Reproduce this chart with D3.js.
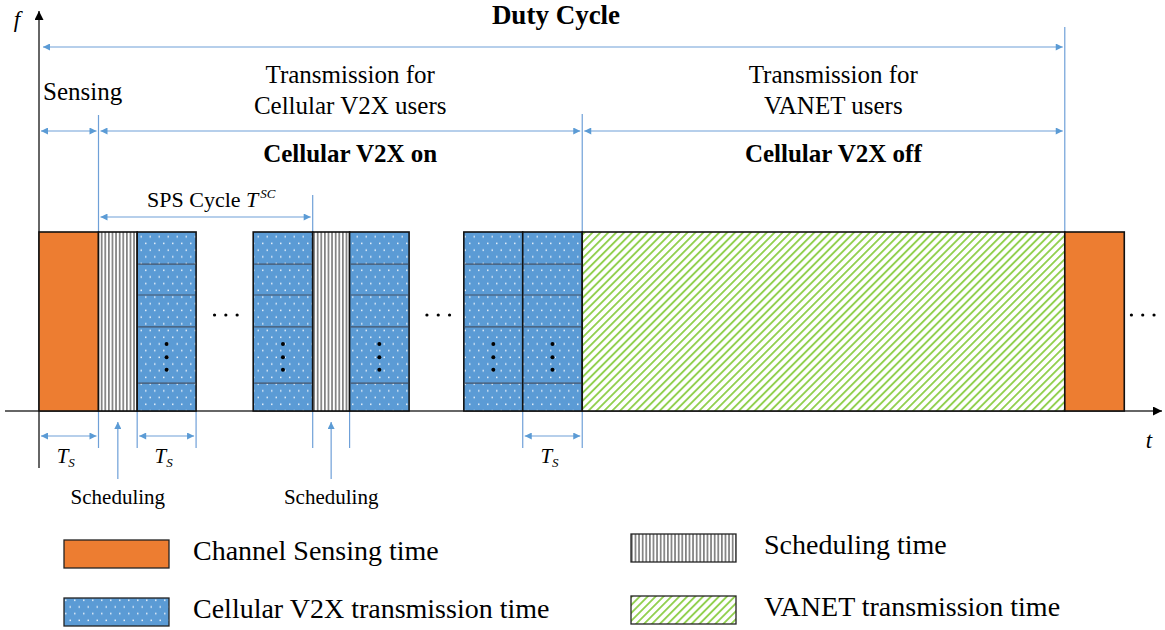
<!DOCTYPE html>
<html>
<head>
<meta charset="utf-8">
<script src="https://cdn.jsdelivr.net/npm/d3@7"></script>
<style>
  body { margin: 0; background: #fff; }
  svg text { font-family: "Liberation Serif", "DejaVu Serif", "Tinos", "Times New Roman", serif; fill: #000; }
</style>
</head>
<body>
<div id="chart"></div>
<script>
// time slots, in units of T_s
const blockStart = [0, 1, 1.65, 3.6, 4.6, 5.22, 7.14, 8.13, 9.13, 17.24];
const blockEnd   = [1, 1.65, 2.64, 4.6, 5.22, 6.22, 8.13, 9.13, 17.24, 18.24];
const blockKind  = ["sense", "sched", "cv2x", "cv2x", "sched", "cv2x", "cv2x", "cv2x", "vanet", "sense"];

// sub-channel borders inside a C-V2X slot (fraction of band)
const subBands = [0.156, 0.47, 0.648, 0.82];
const vDots = [0.23, 0.30, 0.375];
const gapDots = [3.14, 6.71, 18.55];

// dimension arrows
const spanFrom  = [0, 0, 1, 9.13, 1, 0, 1.65, 8.13];
const spanTo    = [17.24, 1, 9.13, 17.24, 4.6, 1, 2.64, 9.13];
const spanRow   = ["duty", "phase", "phase", "phase", "sps", "ts", "ts", "ts"];

const guideAt   = [1, 1.65, 2.64, 4.6, 5.22, 8.13, 9.13, 17.24];
const guideTop  = [115, 411, 411, 195, 411, 411, 114, 27];
const guideBot  = [448, 448, 448, 448, 448, 448, 448, 232];

const schedMarks = [1.325, 4.91];

const legendKinds  = ["sense", "cv2x", "sched", "vanet"];
const legendLabels = ["Channel Sensing time", "Cellular V2X transmission time", "Scheduling time", "VANET transmission time"];

const width = 1165, height = 630;
const x = d3.scaleLinear().domain([0, 1]).range([39, 98.5]);
const y = d3.scaleLinear().domain([0, 1]).range([411, 232]);
const rowY = {duty: 47, phase: 131, sps: 217, ts: 436};
const blue = "#5b9bd5", lineBlue = "#6fa0d8";
const serif = "'Liberation Serif', 'DejaVu Serif', Tinos, 'Times New Roman', serif";

const svg = d3.select("#chart").append("svg")
  .attr("width", width).attr("height", height)
  .attr("font-family", serif);

// patterns and markers
const defs = svg.append("defs");
const dots = defs.append("pattern").attr("id", "dots")
  .attr("patternUnits", "userSpaceOnUse").attr("width", 9).attr("height", 13.4);
dots.append("rect").attr("width", 9).attr("height", 13.4).attr("fill", blue);
dots.selectAll("rect.d").data([[1, 1.5], [5.5, 8.2]]).join("rect").attr("class", "d")
  .attr("x", d => d[0]).attr("y", d => d[1]).attr("width", 1.5).attr("height", 1.5)
  .attr("fill", "#fff").attr("opacity", 0.85);

const stripes = defs.append("pattern").attr("id", "stripes")
  .attr("patternUnits", "userSpaceOnUse").attr("width", 3.6).attr("height", 10);
stripes.append("rect").attr("width", 3.6).attr("height", 10).attr("fill", "#fff");
stripes.append("rect").attr("width", 1.7).attr("height", 10).attr("fill", "#808080");

const hatch = defs.append("pattern").attr("id", "hatch")
  .attr("patternUnits", "userSpaceOnUse").attr("width", 5.6).attr("height", 10)
  .attr("patternTransform", "rotate(45)");
hatch.append("rect").attr("width", 5.6).attr("height", 10).attr("fill", "#fff");
hatch.append("rect").attr("width", 1.9).attr("height", 10).attr("fill", "#92d050");

function marker(id, color, w, h) {
  defs.append("marker").attr("id", id)
    .attr("viewBox", "0 0 10 10").attr("refX", 10).attr("refY", 5)
    .attr("markerUnits", "userSpaceOnUse")
    .attr("markerWidth", w).attr("markerHeight", h)
    .attr("orient", "auto-start-reverse")
    .append("path").attr("d", "M0,0L10,5L0,10Z").attr("fill", color);
}
marker("arrBlue", blue, 9, 7);
marker("arrBlack", "#000", 11, 9);

const fills = {sense: "#ed7d31", sched: "url(#stripes)", cv2x: "url(#dots)", vanet: "url(#hatch)"};

// guide lines
svg.append("g").selectAll("line").data(guideAt).join("line")
  .attr("x1", d => x(d)).attr("x2", d => x(d))
  .attr("y1", (d, i) => guideTop[i]).attr("y2", (d, i) => guideBot[i])
  .attr("stroke", lineBlue).attr("stroke-width", 1.2);

// axes
svg.append("line").attr("x1", 5).attr("x2", 1162).attr("y1", y(0)).attr("y2", y(0))
  .attr("stroke", "#333").attr("stroke-width", 1.5).attr("marker-end", "url(#arrBlack)");
svg.append("line").attr("x1", x(0)).attr("x2", x(0)).attr("y1", 468).attr("y2", 11)
  .attr("stroke", "#333").attr("stroke-width", 1.5).attr("marker-end", "url(#arrBlack)");

// slots
const blocks = blockStart.map((s, i) => ({s, e: blockEnd[i], kind: blockKind[i]}));
const slot = svg.append("g").selectAll("g").data(blocks).join("g");
slot.append("rect")
  .attr("x", d => x(d.s)).attr("y", y(1))
  .attr("width", d => x(d.e) - x(d.s)).attr("height", y(0) - y(1))
  .attr("fill", d => fills[d.kind]).attr("stroke", "#111").attr("stroke-width", 1.6);
const cv = slot.filter(d => d.kind === "cv2x");
cv.selectAll("line").data(d => subBands.map(b => ({d, b}))).join("line")
  .attr("x1", o => x(o.d.s) + 1).attr("x2", o => x(o.d.e) - 1)
  .attr("y1", o => y(o.b)).attr("y2", o => y(o.b))
  .attr("stroke", "#44546a").attr("stroke-width", 1.2);
cv.selectAll("circle").data(d => vDots.map(v => ({d, v}))).join("circle")
  .attr("cx", o => x((o.d.s + o.d.e) / 2)).attr("cy", o => y(o.v)).attr("r", 2).attr("fill", "#000");

// horizontal ellipses
svg.append("g").selectAll("circle")
  .data(gapDots.flatMap(c => [-0.19, 0, 0.19].map(o => c + o))).join("circle")
  .attr("cx", d => x(d)).attr("cy", 315).attr("r", 1.6).attr("fill", "#000");

// dimension arrows
svg.append("g").selectAll("line").data(spanFrom).join("line")
  .attr("x1", (d, i) => x(d) + (d === 0 && spanRow[i] === "duty" ? 4 : 2))
  .attr("x2", (d, i) => x(spanTo[i]) - 2)
  .attr("y1", (d, i) => rowY[spanRow[i]]).attr("y2", (d, i) => rowY[spanRow[i]])
  .attr("stroke", lineBlue).attr("stroke-width", 1.2)
  .attr("marker-start", "url(#arrBlue)").attr("marker-end", "url(#arrBlue)");

// scheduling pointers
svg.append("g").selectAll("line").data(schedMarks).join("line")
  .attr("x1", d => x(d)).attr("x2", d => x(d)).attr("y1", 479).attr("y2", 422)
  .attr("stroke", lineBlue).attr("stroke-width", 1.2).attr("marker-end", "url(#arrBlue)");
svg.append("g").selectAll("text").data(schedMarks).join("text")
  .attr("x", d => x(d)).attr("y", 504).attr("text-anchor", "middle")
  .attr("font-size", 21).text("Scheduling");

// T_s labels
const tsMid = spanFrom.map((d, i) => (d + spanTo[i]) / 2).filter((d, i) => spanRow[i] === "ts");
const tsLab = svg.append("g").selectAll("text").data(tsMid)
  .join("text").attr("x", d => x(d) - 3).attr("y", 463).attr("text-anchor", "middle")
  .attr("font-size", 21).attr("font-style", "italic");
tsLab.append("tspan").text("T");
tsLab.append("tspan").attr("font-size", 13).attr("dy", 4).text("S");

// headings
const label = (t, px, py, size, opts = {}) => svg.append("text")
  .attr("x", px).attr("y", py).attr("font-size", size)
  .attr("text-anchor", opts.anchor || "middle")
  .attr("font-weight", opts.bold ? "bold" : null)
  .attr("font-style", opts.italic ? "italic" : null).text(t);

label("Duty Cycle", 556, 24, 27, {bold: true});
label("Sensing", 43, 100, 25, {anchor: "start"});
label("Transmission for", x(5.23), 83, 25);
label("Cellular V2X users", x(5.23), 114, 25);
label("Cellular V2X on", x(5.23), 162, 25, {bold: true});
label("Transmission for", x(13.35), 83, 25);
label("VANET users", x(13.35), 114, 25);
label("Cellular V2X off", x(13.35), 162, 25, {bold: true});
label("f", 17, 27, 23, {italic: true});
label("t", 1149, 448, 23, {italic: true});

const sps = svg.append("text").attr("x", 147).attr("y", 207).attr("font-size", 22);
sps.append("tspan").text("SPS Cycle ");
sps.append("tspan").attr("font-style", "italic").text("T");
sps.append("tspan").attr("font-style", "italic").attr("font-size", 13).attr("dy", -9).attr("dx", 2).text("SC");

// legend
const leg = svg.append("g").selectAll("g").data(legendKinds).join("g")
  .attr("transform", (d, i) => `translate(${i < 2 ? 64 : 631},${i < 2 ? 540 + i * 58 : 534 + (i - 2) * 62})`);
leg.append("rect").attr("width", 105).attr("height", 28)
  .attr("fill", d => fills[d]).attr("stroke", "#222").attr("stroke-width", 1.3);
leg.append("text").attr("x", (d, i) => i < 2 ? 129 : 133).attr("y", 20)
  .attr("font-size", 28).text((d, i) => legendLabels[i]);
</script>
</body>
</html>
